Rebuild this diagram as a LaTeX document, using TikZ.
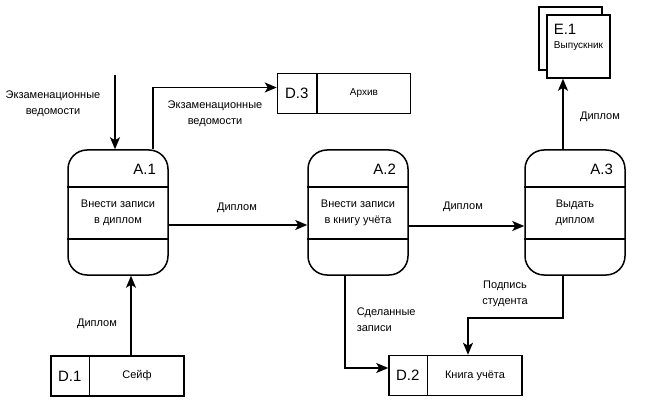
\documentclass[tikz,border=0pt]{standalone}
\usepackage{fontspec}
\setmainfont{Liberation Sans}
\usetikzlibrary{arrows.meta}
\tikzset{
  proc/.style={draw,rounded corners=19pt,minimum width=100pt,minimum height=125pt,inner sep=0pt},
  store/.style={draw,minimum width=133pt,minimum height=40pt,inner sep=0pt},
  ent/.style={draw,fill=white,minimum size=63pt,inner sep=0pt},
  idtxt/.style={font=\fontsize{15}{18}\selectfont,inner sep=0pt},
  lbl/.style={font=\fontsize{11}{16}\selectfont,align=center,inner sep=0pt},
  small/.style={font=\fontsize{10}{12}\selectfont,inner sep=0pt}
}
\begin{document}
\begin{tikzpicture}[x=1pt,y=-1pt,>={Stealth[length=12pt,width=10pt,inset=3pt]},line width=1.5pt]
\useasboundingbox (0,0) rectangle (659,409);
% processes
\node[proc] (a1) at (118,212.5) {};
\node[proc] (a2) at (358,212.5) {};
\node[proc] (a3) at (575,212.5) {};
\foreach \p in {a1,a2,a3} {
  \draw ([yshift=-38pt]\p.north west) -- ([yshift=-38pt]\p.north east);
  \draw ([yshift=37pt]\p.south west) -- ([yshift=37pt]\p.south east);
}
\node[idtxt,anchor=east] (a1id) at ([xshift=-12pt,yshift=-20pt]a1.north east) {A.1};
\node[idtxt,anchor=east] (a2id) at ([xshift=-12pt,yshift=-20pt]a2.north east) {A.2};
\node[idtxt,anchor=east] (a3id) at ([xshift=-12pt,yshift=-20pt]a3.north east) {A.3};
\node[lbl] (a1txt) at (118,213) {Внести записи\\в диплом};
\node[lbl] (a2txt) at (358,213) {Внести записи\\в книгу учёта};
\node[lbl] (a3txt) at (575,213) {Выдать\\диплом};
% stores
\node[store] (d1) at (117.5,376) {};
\node[store] (d2) at (455.5,375.5) {};
\node[store] (d3) at (344,93.5) {};
\draw ([xshift=39pt]d1.north west) -- ([xshift=39pt]d1.south west);
\draw ([xshift=39pt]d2.north west) -- ([xshift=39pt]d2.south west);
\draw ([xshift=40pt]d3.north west) -- ([xshift=40pt]d3.south west);
\node[idtxt] (d1id) at ([xshift=19.5pt]d1.west) {D.1};
\node[idtxt] (d2id) at ([xshift=19.5pt]d2.west) {D.2};
\node[idtxt] (d3id) at ([xshift=20pt]d3.west) {D.3};
\node[lbl] (d1txt) at ([xshift=19.5pt]d1.center) {Сейф};
\node[lbl] (d2txt) at ([xshift=19.5pt]d2.center) {Книга учёта};
\node[small] (d3txt) at ([xshift=20pt]d3.center) {Архив};
% external entity
\node[ent] (e1back) at (570.5,38.5) {};
\node[ent] (e1) at (578.5,46.5) {};
\node[idtxt,anchor=west] (e1id) at (553,29) {E.1};
\node[small] (e1txt) at (e1 |- 0,46) {Выпускник};
% flows
\coordinate (in1) at (115,75);
\draw[->] (in1) -- (in1 |- a1.north);
\draw[->] ([xshift=35pt]a1.north) |- ([yshift=6pt]d3.west);
\draw[->] ([yshift=-12.5pt]a1.east) -- ([yshift=-12.5pt]a2.west);
\draw[->] ([yshift=-13.5pt]a2.east) -- ([yshift=-13.5pt]a3.west);
\draw[->] ([xshift=-12pt]a3.north) -- ([xshift=-12pt]a3.north |- e1.south);
\draw[->] ([xshift=13.5pt]d1.north) -- ([xshift=13.5pt]d1.north |- a1.south);
\draw[->] ([xshift=-13pt]a2.south) |- ([yshift=7.5pt]d2.west);
\draw[->] ([xshift=-12pt]a3.south) -- ++(0,42) -| ([xshift=12.5pt]d2.north);
% flow labels
\node[lbl] (l1) at (53,104) {Экзаменационные\\ведомости};
\node[lbl] (l2) at (215,114) {Экзаменационные\\ведомости};
\node[lbl] (l3) at (237,208) {Диплом};
\node[lbl] (l4) at (463,207) {Диплом};
\node[lbl] (l5) at (600,117) {Диплом};
\node[lbl] (l6) at (97,324) {Диплом};
\node[lbl,align=left,anchor=west] (l7) at (356,320) {Сделанные\\записи};
\node[lbl] (l8) at (505,294) {Подпись\\студента};
\end{tikzpicture}
\end{document}
